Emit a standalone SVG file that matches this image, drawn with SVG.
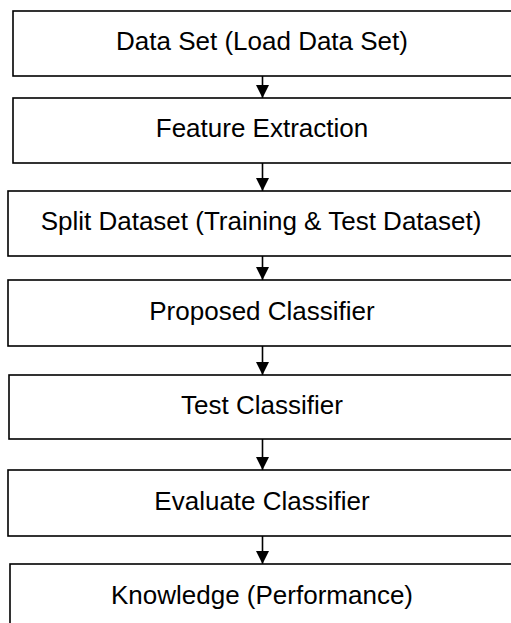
<svg xmlns="http://www.w3.org/2000/svg" width="511" height="623" viewBox="0 0 511 623">
  <style>
    .box { fill: #ffffff; stroke: #000000; stroke-width: 1.6; }
    .label { font-family: "Liberation Sans", Arial, sans-serif; font-size: 26px; fill: #000000; text-anchor: middle; }
    .link { stroke: #000000; stroke-width: 1.6; fill: none; }
  </style>
  <defs>
    <marker id="arrowhead" markerWidth="13" markerHeight="14" refX="13" refY="6.5" orient="auto" markerUnits="userSpaceOnUse" viewBox="0 0 13 13">
      <path d="M0,0 L13,6.5 L0,13 Z" fill="#000000"/>
    </marker>
  </defs>
  <rect width="511" height="623" fill="#ffffff"/>

  <g id="node-dataset">
    <rect class="box" x="13" y="11" width="520" height="65"/>
    <text class="label" x="262" y="50">Data Set (Load Data Set)</text>
  </g>
  <g id="node-feature-extraction">
    <rect class="box" x="13" y="98" width="520" height="65"/>
    <text class="label" x="262" y="137">Feature Extraction</text>
  </g>
  <g id="node-split-dataset">
    <rect class="box" x="8" y="191" width="520" height="65"/>
    <text class="label" x="261" y="230">Split Dataset (Training &amp; Test Dataset)</text>
  </g>
  <g id="node-proposed-classifier">
    <rect class="box" x="8" y="280" width="520" height="66"/>
    <text class="label" x="262" y="319.5">Proposed Classifier</text>
  </g>
  <g id="node-test-classifier">
    <rect class="box" x="9" y="375" width="520" height="64"/>
    <text class="label" x="262" y="413.5">Test Classifier</text>
  </g>
  <g id="node-evaluate-classifier">
    <rect class="box" x="8" y="470" width="520" height="66"/>
    <text class="label" x="262" y="509.5">Evaluate Classifier</text>
  </g>
  <g id="node-knowledge">
    <rect class="box" x="10" y="564" width="520" height="70"/>
    <text class="label" x="262" y="604">Knowledge (Performance)</text>
  </g>

  <g id="connectors">
    <line class="link" x1="262.5" y1="76" x2="262.5" y2="98" marker-end="url(#arrowhead)"/>
    <line class="link" x1="262.5" y1="163" x2="262.5" y2="191" marker-end="url(#arrowhead)"/>
    <line class="link" x1="262.5" y1="256" x2="262.5" y2="280" marker-end="url(#arrowhead)"/>
    <line class="link" x1="262.5" y1="346" x2="262.5" y2="375" marker-end="url(#arrowhead)"/>
    <line class="link" x1="262.5" y1="439" x2="262.5" y2="470" marker-end="url(#arrowhead)"/>
    <line class="link" x1="262.5" y1="536" x2="262.5" y2="564" marker-end="url(#arrowhead)"/>
  </g>
</svg>
